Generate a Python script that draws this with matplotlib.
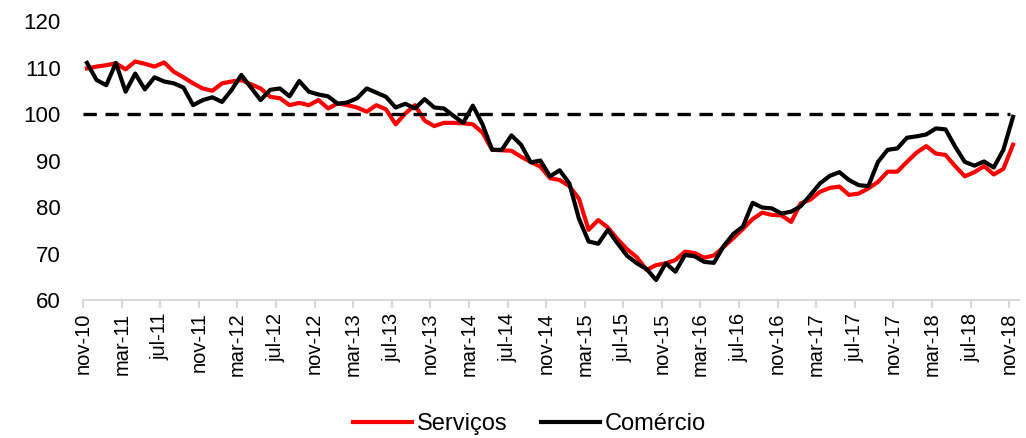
import numpy as np
import matplotlib
matplotlib.use("Agg")
import matplotlib.pyplot as plt

plt.rcParams['font.family'] = ['Liberation Sans', 'DejaVu Sans']

# rótulos do eixo x (a cada 4 meses, nov-10 a nov-18)
tick_labels = ['nov-10', 'mar-11', 'jul-11', 'nov-11', 'mar-12', 'jul-12', 'nov-12',
               'mar-13', 'jul-13', 'nov-13', 'mar-14', 'jul-14', 'nov-14', 'mar-15',
               'jul-15', 'nov-15', 'mar-16', 'jul-16', 'nov-16', 'mar-17', 'jul-17',
               'nov-17', 'mar-18', 'jul-18', 'nov-18']

# séries mensais (nov-10 a nov-18)
servicos = [109.8, 110.2, 110.5, 110.9, 109.6, 111.3, 110.8, 110.2, 111.1, 109.1,
            107.9, 106.6, 105.5, 105.0, 106.6, 107.0, 107.3, 106.4, 105.5, 103.7,
            103.4, 101.9, 102.4, 101.9, 103.0, 101.2, 102.3, 101.9, 101.4, 100.5,
            101.9, 101.0, 97.8, 100.1, 101.9, 98.6, 97.4, 98.1, 98.1, 98.0,
            97.8, 96.0, 92.3, 92.2, 92.1, 90.8, 89.7, 88.7, 86.2, 85.8,
            84.5, 81.8, 75.1, 77.2, 75.6, 73.1, 70.9, 69.2, 66.5, 67.5,
            67.9, 68.6, 70.4, 70.1, 69.1, 69.6, 71.4, 73.3, 75.3, 77.4,
            78.8, 78.3, 78.2, 76.8, 80.8, 81.6, 83.3, 84.1, 84.4, 82.6,
            82.9, 84.0, 85.4, 87.6, 87.6, 89.7, 91.7, 93.1, 91.5, 91.2,
            88.8, 86.6, 87.5, 88.8, 87.0, 88.2, 93.4]

comercio = [111.0, 107.3, 106.2, 111.0, 104.8, 108.7, 105.3, 107.9, 107.0, 106.6,
            105.7, 101.9, 103.0, 103.6, 102.6, 105.2, 108.4, 105.7, 103.0, 105.2,
            105.5, 103.8, 107.1, 104.8, 104.2, 103.8, 102.2, 102.5, 103.4, 105.5,
            104.6, 103.7, 101.4, 102.2, 101.2, 103.2, 101.4, 101.2, 99.6, 98.1,
            101.8, 97.8, 92.3, 92.3, 95.4, 93.4, 89.6, 90.0, 86.6, 87.9,
            85.1, 77.5, 72.6, 72.1, 75.1, 72.2, 69.5, 67.9, 66.7, 64.3,
            67.9, 66.1, 69.7, 69.4, 68.2, 68.0, 71.6, 74.2, 75.8, 80.9,
            79.9, 79.7, 78.6, 79.0, 80.2, 82.6, 85.1, 86.7, 87.5, 85.8,
            84.7, 84.5, 89.7, 92.3, 92.6, 94.9, 95.2, 95.6, 96.9, 96.7,
            93.0, 89.7, 88.9, 89.8, 88.5, 92.3, 99.4]

referencia = 100

x = np.arange(len(servicos)) + 0.4

fig = plt.figure(figsize=(10.26, 4.38), dpi=100)
ax = fig.add_axes([0.081, 0.315, 0.912, 0.637])

ax.plot(x, servicos, color='#ff0000', lw=3.0, label='Serviços', solid_joinstyle='round')
ax.plot(x, comercio, color='black', lw=3.0, label='Comércio', solid_joinstyle='round')
ax.axhline(referencia, xmin=0, xmax=96.1 / 97, color='black', lw=2.4,
           ls=(0, (4, 2.6)))

ax.set_xlim(0, 97)
ax.set_ylim(60, 120)
ax.set_yticks(range(60, 121, 10))
ax.set_xticks(range(0, 97, 4))
ax.set_xticklabels(tick_labels, rotation=90, fontsize=14.5)
ax.tick_params(axis='y', length=0, labelsize=16, pad=16)
ax.tick_params(axis='x', length=6, color='#d9d9d9', width=1.5, pad=3)

for s in ['top', 'right', 'left']:
    ax.spines[s].set_visible(False)
ax.spines['bottom'].set_color('#d9d9d9')
ax.spines['bottom'].set_linewidth(1.5)

fig.legend(loc='center', bbox_to_anchor=(0.516, 0.032), ncol=2, frameon=False,
           fontsize=17, handlelength=2.5, handletextpad=0.2, columnspacing=1.4)

fig.savefig('out.png', dpi=100)
